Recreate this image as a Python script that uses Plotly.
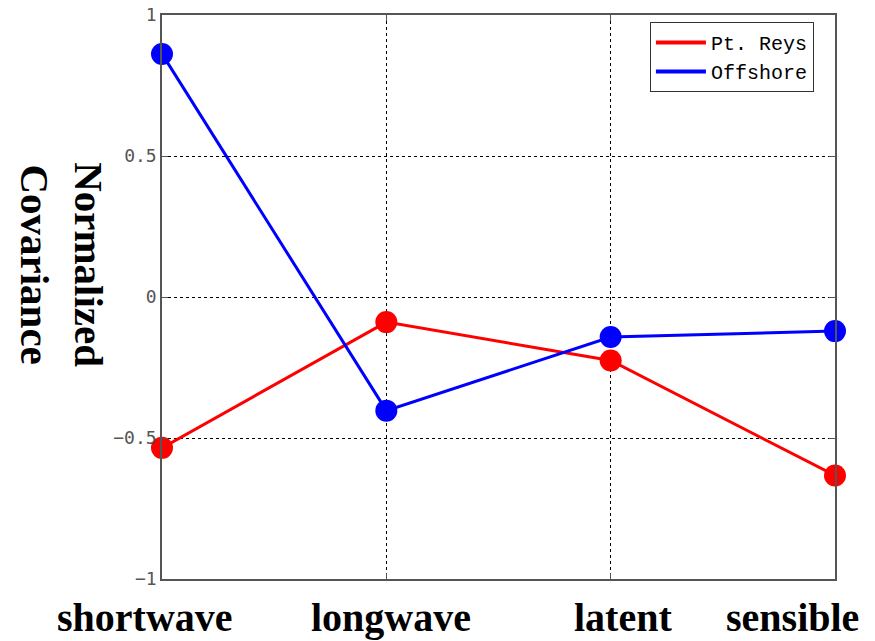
import plotly.graph_objects as go

categories = ["shortwave", "longwave", "latent", "sensible"]
pt_reyes = [-0.535, -0.089, -0.225, -0.633]
offshore = [0.862, -0.403, -0.142, -0.121]
label_shifts = [-17, 5, 12, -43]
yticks = [-1, -0.5, 0, 0.5, 1]
yticklabels = ["\u22121", "\u22120.5", "0", "0.5", "1"]

xs = list(range(len(categories)))
RED = "#ff0000"
BLUE = "#0000ff"

fig = go.Figure()
fig.add_trace(go.Scatter(x=xs, y=pt_reyes, name="Pt. Reys", mode="lines+markers",
                         line=dict(color=RED, width=3), showlegend=False,
                         marker=dict(size=22, color=RED), cliponaxis=False))
fig.add_trace(go.Scatter(x=xs, y=offshore, name="Offshore", mode="lines+markers",
                         line=dict(color=BLUE, width=3), showlegend=False,
                         marker=dict(size=22, color=BLUE), cliponaxis=False))
# legend entries (lines only, as in the reference legend)
fig.add_trace(go.Scatter(x=[None], y=[None], name="Pt. Reys", mode="lines",
                         line=dict(color=RED, width=4), showlegend=True))
fig.add_trace(go.Scatter(x=[None], y=[None], name="Offshore", mode="lines",
                         line=dict(color=BLUE, width=4), showlegend=True))

axis_common = dict(showline=True, linecolor="#555555", linewidth=1.5, mirror="ticks",
                   ticks="inside", ticklen=6, tickcolor="#555555",
                   showgrid=True, gridcolor="black", griddash="dot", gridwidth=1,
                   zeroline=False, automargin=False)

fig.update_xaxes(range=[0, 3], tickvals=xs, showticklabels=False, **axis_common)
fig.update_yaxes(range=[-1, 1], tickvals=yticks, ticktext=yticklabels,
                 tickfont=dict(family="DejaVu Sans Mono", size=18, color="#555555"),
                 **axis_common)

annotations = []
for i, (c, s) in enumerate(zip(categories, label_shifts)):
    annotations.append(dict(x=i, y=-0.068, xref="x", yref="paper", text="<b>%s</b>" % c,
                            showarrow=False, xshift=s, xanchor="center", yanchor="middle",
                            font=dict(family="Liberation Serif", size=40, color="black")))
annotations.append(dict(x=-0.149, y=0.557, xref="paper", yref="paper",
                        text="<b>Normalized<br>Covariance</b>", textangle=90,
                        showarrow=False, xanchor="center", yanchor="middle",
                        font=dict(family="Liberation Serif", size=41, color="black")))

fig.update_layout(
    width=875, height=641,
    margin=dict(l=162, r=40, t=15, b=62),
    paper_bgcolor="white", plot_bgcolor="white",
    showlegend=True,
    legend=dict(x=0.725, y=0.9876, xanchor="left", yanchor="top",
                bgcolor="white", bordercolor="#333333", borderwidth=1,
                font=dict(family="Liberation Mono", size=20, color="black"),
                itemwidth=50, tracegroupgap=0),
    annotations=annotations,
)

fig.write_html("out.html")
